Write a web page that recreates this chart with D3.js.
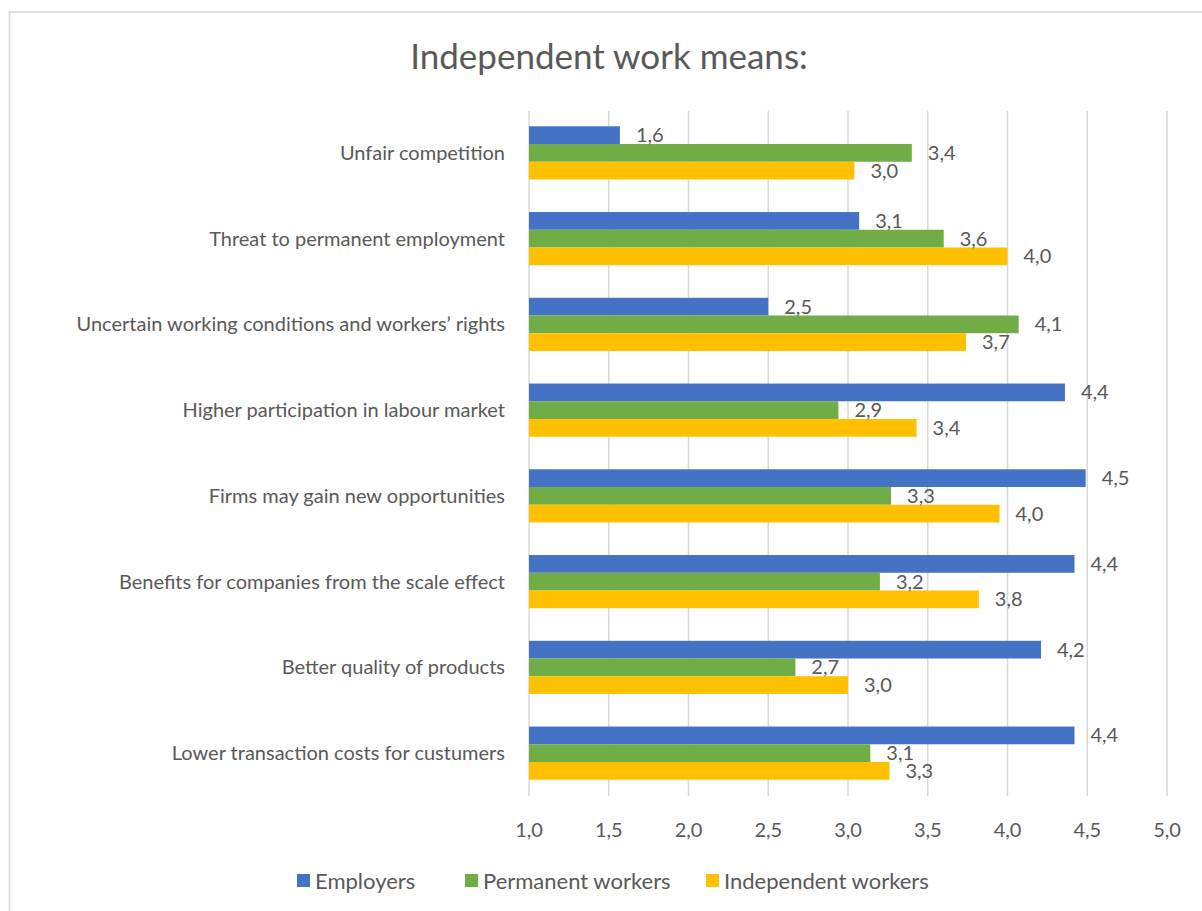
<!DOCTYPE html>
<html>
<head>
<meta charset="utf-8">
<script src="https://cdn.jsdelivr.net/npm/d3@7"></script>
<style>
  body { margin: 0; background: #fff; }
  text { font-family: Lato, "Open Sans", sans-serif; fill: #595959; }
</style>
</head>
<body>
<div id="chart"></div>
<script>
const categories = [
    'Unfair competition',
    'Threat to permanent employment',
    'Uncertain working conditions and workers\u2019 rights',
    'Higher participation in labour market',
    'Firms may gain new opportunities',
    'Benefits for companies from the scale effect',
    'Better quality of products ',
    'Lower transaction costs for custumers'
];
const seriesNames = ['Employers', 'Permanent workers', 'Independent workers'];
const employers = [1.57, 3.07, 2.50, 4.36, 4.49, 4.42, 4.21, 4.42];
const permanentWorkers = [3.40, 3.60, 4.07, 2.94, 3.27, 3.20, 2.67, 3.14];
const independentWorkers = [3.04, 4.00, 3.74, 3.43, 3.95, 3.82, 3.00, 3.26];
const xTicks = [1.0, 1.5, 2.0, 2.5, 3.0, 3.5, 4.0, 4.5, 5.0];
const colors = ['#4472C4', '#70AD47', '#FFC000'];

const width = 1202, height = 911;
const margin = { top: 110, right: 35, bottom: 115, left: 529 };

const svg = d3.select('#chart').append('svg')
    .attr('width', width)
    .attr('height', height);

// chart frame
svg.append('rect')
    .attr('x', 9.5).attr('y', 12)
    .attr('width', 1200).attr('height', 910)
    .attr('fill', '#fff')
    .attr('stroke', '#d9d9d9')
    .attr('stroke-width', 1.5);

svg.append('text')
    .attr('x', 609).attr('y', 69)
    .attr('text-anchor', 'middle')
    .style('font-size', '35px')
    .text('Independent work means:');

const x = d3.scaleLinear()
    .domain([1, 5])
    .range([margin.left, width - margin.right]);

const y = d3.scaleBand()
    .domain(categories)
    .range([margin.top, height - margin.bottom])
    .paddingInner(0.38)
    .paddingOuter(0.19);

const ySub = d3.scaleBand()
    .domain(seriesNames)
    .range([0, y.bandwidth()]);

// gridlines
svg.append('g')
    .selectAll('line')
    .data(xTicks)
    .join('line')
    .attr('x1', d => x(d)).attr('x2', d => x(d))
    .attr('y1', margin.top + 1).attr('y2', height - margin.bottom)
    .attr('stroke', '#d9d9d9')
    .attr('stroke-width', 1.5);

// tick labels
svg.append('g')
    .selectAll('text')
    .data(xTicks)
    .join('text')
    .attr('x', d => x(d))
    .attr('y', 837)
    .attr('text-anchor', 'middle')
    .style('font-size', '20px')
    .text(d => d.toFixed(1).replace('.', ','));

// category labels
svg.append('g')
    .selectAll('text')
    .data(categories)
    .join('text')
    .attr('x', 505)
    .attr('y', d => y(d) + y.bandwidth() / 2)
    .attr('dy', '0.35em')
    .attr('text-anchor', 'end')
    .style('font-size', '20px')
    .text(d => d);

const seriesData = [employers, permanentWorkers, independentWorkers];
const rows = [];
seriesData.forEach((vals, si) => {
    vals.forEach((v, ci) => rows.push({ cat: categories[ci], series: seriesNames[si], si, value: v }));
});

const bars = svg.append('g');
bars.selectAll('rect')
    .data(rows)
    .join('rect')
    .attr('x', x(1))
    .attr('y', d => y(d.cat) + ySub(d.series))
    .attr('width', d => x(d.value) - x(1))
    .attr('height', ySub.bandwidth())
    .attr('fill', d => colors[d.si]);

bars.selectAll('text')
    .data(rows)
    .join('text')
    .attr('x', d => x(d.value) + 16)
    .attr('y', d => y(d.cat) + ySub(d.series) + ySub.bandwidth() / 2)
    .attr('dy', '0.35em')
    .style('font-size', '20px')
    .text(d => d.value.toFixed(1).replace('.', ','));

// legend
const legendX = [297, 465, 706];
const legend = svg.append('g')
    .selectAll('g')
    .data(seriesNames)
    .join('g')
    .attr('transform', (d, i) => `translate(${legendX[i]},874)`);
legend.append('rect')
    .attr('width', 13).attr('height', 13)
    .attr('fill', (d, i) => colors[i]);
legend.append('text')
    .attr('x', 18).attr('y', 7)
    .attr('dy', '0.35em')
    .style('font-size', '22px')
    .text(d => d);
</script>
</body>
</html>
